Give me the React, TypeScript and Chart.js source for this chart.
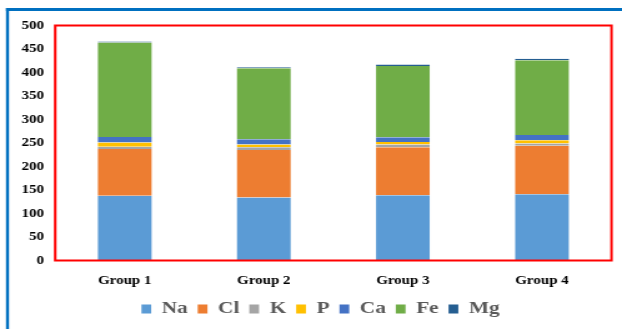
import React, { useEffect, useRef } from "react";
import { Chart, registerables } from "chart.js";

Chart.register(...registerables);

// Mineral content per group (stacked)
const groups = ["Group 1", "Group 2", "Group 3", "Group 4"];
const na = [138, 134, 139, 141];
const cl = [99, 101, 102, 103];
const k = [5, 6, 6, 5];
const p = [9, 6, 5, 7];
const ca = [12, 11, 10, 11];
const fe = [201, 151, 152, 159];
const mg = [2, 2, 3, 3];

const seriesNames = ["Na", "Cl", "K", "P", "Ca", "Fe", "Mg"];
const seriesValues = [na, cl, k, p, ca, fe, mg];
const seriesColors = ["#5B9BD5", "#ED7D31", "#A5A5A5", "#FFC000", "#4472C4", "#70AD47", "#255E91"];

const yMin = 0;
const yMax = 500;
const yStep = 50;

// The canvas is rendered narrower and stretched horizontally by CSS
const OUT_W = 622;
const OUT_H = 329;
const IN_W = 498;

const FONT = "'Liberation Serif', 'Times New Roman', serif";

const framePlugin = {
  id: "frames",
  afterLayout(chart: any) {
    // let the y tick labels extend left of the axis box without being clipped
    if (chart.scales.y) chart.scales.y.left = 0;
  },
  beforeDraw(chart: any) {
    const { ctx } = chart;
    ctx.save();
    ctx.fillStyle = "#ffffff";
    ctx.fillRect(0, 0, chart.width, chart.height);
    // outer blue frame (open to the right and bottom)
    ctx.fillStyle = "#0070C0";
    ctx.fillRect(4.8, 8, 2.4, chart.height);
    ctx.fillRect(4.8, 8, chart.width, 3);
    ctx.restore();
  },
  afterDatasetsDraw(chart: any) {
    const { ctx, chartArea } = chart;
    ctx.save();
    ctx.strokeStyle = "#FF0000";
    ctx.lineWidth = 2;
    ctx.strokeRect(chartArea.left, chartArea.top, chartArea.right - chartArea.left, chartArea.bottom - chartArea.top);
    ctx.restore();
  },
};

export default function App() {
  const ref = useRef<HTMLCanvasElement | null>(null);

  useEffect(() => {
    if (!ref.current) return;
    const chart = new Chart(ref.current, {
      type: "bar",
      data: {
        labels: groups,
        datasets: seriesNames.map((name, i) => ({
          label: name,
          data: seriesValues[i],
          backgroundColor: seriesColors[i],
          borderColor: "rgba(255,255,255,0.45)",
          borderWidth: { left: 0.8, right: 0.8, top: 0, bottom: 0 },
          borderSkipped: false,
          categoryPercentage: 1,
          barPercentage: 0.4,
        })),
      },
      options: {
        responsive: false,
        animation: false,
        devicePixelRatio: 1,
        layout: { padding: { left: 23.6, right: 8.4, top: 25.5, bottom: 1.5 } },
        plugins: {
          legend: {
            position: "bottom",
            labels: {
              boxWidth: 7.8,
              boxHeight: 9,
              padding: 8,
              color: "#595959",
              font: { family: FONT, size: 17, weight: "bold" },
              generateLabels: (chart: any) =>
                chart.data.datasets.map((ds: any, i: number) => ({
                  text: ds.label,
                  fillStyle: seriesColors[i],
                  strokeStyle: seriesColors[i],
                  lineWidth: 0,
                  hidden: false,
                  datasetIndex: i,
                  fontColor: "#595959",
                })),
            },
          },
          tooltip: { enabled: false },
        },
        scales: {
          x: {
            stacked: true,
            grid: { display: false, drawTicks: false },
            border: { display: false },
            ticks: {
              color: "#000000",
              padding: 13,
              font: { family: FONT, size: 12, weight: "bold" },
            },
            afterFit: (scale: any) => {
              scale.height = 32;
            },
          },
          y: {
            stacked: true,
            min: yMin,
            max: yMax,
            grid: { display: false, drawTicks: false },
            border: { display: false },
            ticks: {
              stepSize: yStep,
              color: "#000000",
              padding: 9,
              font: { family: FONT, size: 12, weight: "bold" },
            },
            afterFit: (scale: any) => {
              scale.width = 20.6;
            },
          },
        },
      },
      plugins: [framePlugin],
    });
    return () => chart.destroy();
  }, []);

  return (
    <div style={{ position: "fixed", left: 0, top: 0, width: OUT_W, height: OUT_H, background: "#fff" }}>
      <canvas
        ref={ref}
        width={IN_W}
        height={OUT_H}
        style={{ width: `${OUT_W}px`, height: `${OUT_H}px`, display: "block" }}
      />
    </div>
  );
}
